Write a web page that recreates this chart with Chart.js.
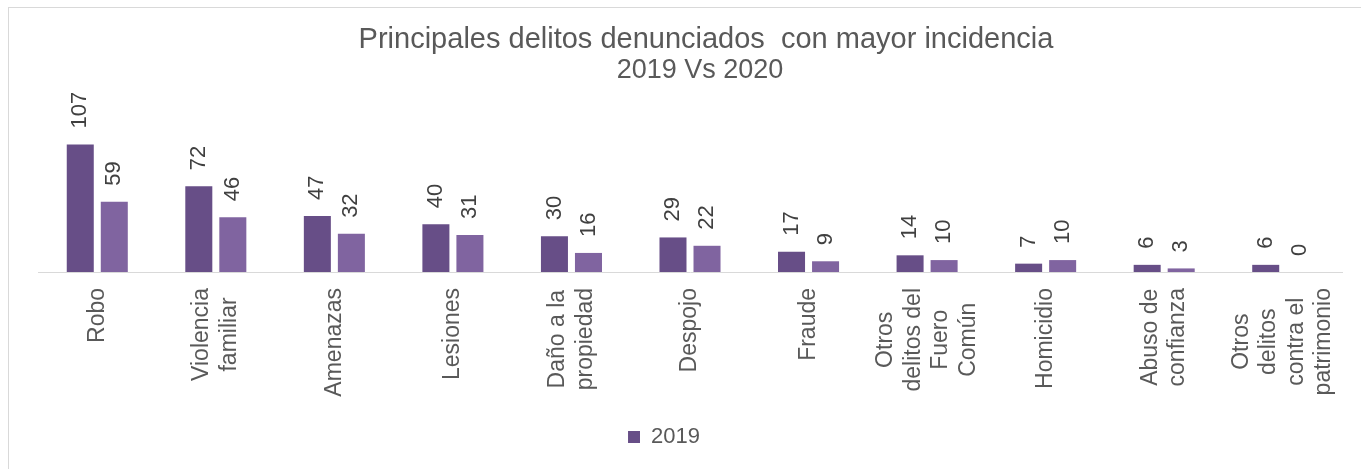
<!DOCTYPE html>
<html>
<head>
<meta charset="utf-8">
<script src="https://cdn.jsdelivr.net/npm/chart.js@4"></script>
<style>
  html, body { margin: 0; padding: 0; background: #ffffff; }
  #frame { position: absolute; left: 8px; top: 7px; width: 1400px; height: 500px; border: 1px solid #d9d9d9; }
  #c { position: absolute; left: 0; top: 0; }
</style>
</head>
<body>
<div id="frame"></div>
<canvas id="c" width="1361" height="469"></canvas>
<script>
const categories = [
  ["Robo"],
  ["Violencia", "familiar"],
  ["Amenazas"],
  ["Lesiones"],
  ["Daño a la", "propiedad"],
  ["Despojo"],
  ["Fraude"],
  ["Otros", "delitos del", "Fuero", "Común"],
  ["Homicidio"],
  ["Abuso de", "confianza"],
  ["Otros", "delitos", "contra el", "patrimonio"]
];
const values2019 = [107, 72, 47, 40, 30, 29, 17, 14, 7, 6, 6];
const values2020 = [59, 46, 32, 31, 16, 22, 9, 10, 10, 3, 0];
const seriesNames = ["2019", "2020"];
const titleText = "Principales delitos denunciados  con mayor incidencia";
const subtitleText = "2019 Vs 2020";

const FONT = '"Liberation Sans", Arial, sans-serif';

const valueLabels = {
  id: 'valueLabels',
  afterDatasetsDraw(chart) {
    const ctx = chart.ctx;
    ctx.save();
    ctx.font = '22px ' + FONT;
    ctx.fillStyle = '#404040';
    ctx.textAlign = 'left';
    ctx.textBaseline = 'middle';
    chart.data.datasets.forEach((ds, di) => {
      chart.getDatasetMeta(di).data.forEach((bar, i) => {
        ctx.save();
        ctx.translate(bar.x, bar.y - 16);
        ctx.rotate(-Math.PI / 2);
        ctx.fillText(String(ds.data[i]), 0, 0);
        ctx.restore();
      });
    });
    ctx.restore();
  }
};

const xLabels = {
  id: 'xLabels',
  afterDraw(chart) {
    const ctx = chart.ctx;
    const sc = chart.scales.x;
    ctx.save();
    ctx.font = '23px ' + FONT;
    ctx.fillStyle = '#595959';
    ctx.textAlign = 'center';
    ctx.textBaseline = 'middle';
    const lh = 27.6;
    chart.data.labels.forEach((lab, i) => {
      const lines = [].concat(lab);
      const x0 = sc.getPixelForValue(i);
      const w = Math.max(...lines.map(l => ctx.measureText(l).width));
      const yc = sc.top + 16 + w / 2;
      lines.forEach((l, j) => {
        ctx.save();
        ctx.translate(x0 + (j - (lines.length - 1) / 2) * lh, yc);
        ctx.rotate(-Math.PI / 2);
        ctx.fillText(l, 0, 0);
        ctx.restore();
      });
    });
    ctx.restore();
  }
};

const boxShift = {
  id: 'boxShift',
  afterLayout(chart) {
    const shifts = [[chart.legend, -26], [chart.titleBlock, 16]];
    const sub = chart.boxes.find(b => b.options && b.options.text === subtitleText && b !== chart.titleBlock);
    if (sub) shifts.push([sub, 10]);
    shifts.forEach(([b, d]) => { if (b) { b.left += d; b.right += d; } });
  }
};

new Chart(document.getElementById('c'), {
  type: 'bar',
  data: {
    labels: categories,
    datasets: [
      { label: seriesNames[0], data: values2019, backgroundColor: '#674e87', borderWidth: 0,
        categoryPercentage: 0.574, barPercentage: 0.794 },
      { label: seriesNames[1], data: values2020, backgroundColor: '#8064a0', borderWidth: 0,
        categoryPercentage: 0.574, barPercentage: 0.794 }
    ]
  },
  options: {
    responsive: false,
    animation: false,
    devicePixelRatio: 1,
    layout: { padding: { left: 38, right: 19, top: 0, bottom: 11 } },
    scales: {
      x: {
        grid: { display: false, drawTicks: false },
        border: { display: true, color: '#d9d9d9', width: 1 },
        ticks: { display: false },
        afterFit(scale) { scale.height = 144; }
      },
      y: {
        display: false,
        min: 0,
        max: 120
      }
    },
    plugins: {
      title: {
        display: true,
        text: titleText,
        color: '#595959',
        font: { family: FONT, size: 29, weight: 'normal', lineHeight: 28 / 29 },
        padding: { top: 26, bottom: 0 }
      },
      subtitle: {
        display: true,
        text: subtitleText,
        color: '#595959',
        font: { family: FONT, size: 27, weight: 'normal', lineHeight: 30 / 27 },
        padding: { top: 2, bottom: 43 }
      },
      legend: {
        display: true,
        position: 'bottom',
        labels: {
          color: '#595959',
          font: { family: FONT, size: 22 },
          boxWidth: 12,
          boxHeight: 12,
          padding: 10,
          filter: (item) => item.datasetIndex === 0
        }
      },
      tooltip: { enabled: false }
    }
  },
  plugins: [valueLabels, xLabels, boxShift]
});
</script>
</body>
</html>
